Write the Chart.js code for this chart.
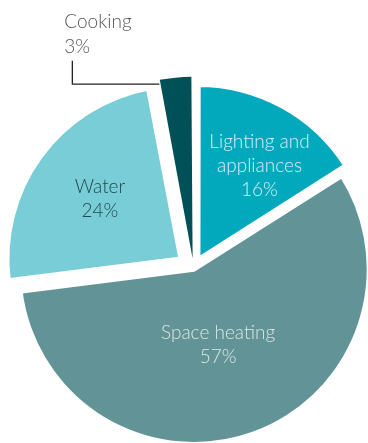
<!DOCTYPE html>
<html>
<head>
<meta charset="utf-8">
<script src="https://cdn.jsdelivr.net/npm/chart.js@4/dist/chart.umd.min.js"></script>
<style>
  html, body { margin: 0; padding: 0; background: #ffffff; }
  #wrap { width: 368px; height: 443px; position: relative; }
</style>
</head>
<body>
<div id="wrap"><canvas id="chart" width="368" height="443"></canvas></div>
<script>
// Household energy use by end use (share of total, %), clockwise from Cooking
const categories = ['Cooking', 'Lighting and appliances', 'Space heating', 'Water'];
const shares = [3, 16, 57, 24];
const labelLines = [['Cooking'], ['Lighting and', 'appliances'], ['Space heating'], ['Water']];

// Styling
const sliceColors = ['#005157', '#02a9bc', '#629396', '#78cdd7'];
const labelColors = ['#555555', '#d6f1f4', '#d9e7e8', '#1f4a4f'];
const sliceBorders = [0, 5, 5, 5];
const sliceOffsets = [38, 37, 5, 62];
const labelRadius = [0, 0.698, 0.462, 0.668];
const labelAngleShift = [0, 4.1, 2.0, 0.4];
const FONT = '300 19px Lato, "Open Sans", sans-serif';

const sliceLabels = {
  id: 'sliceLabels',
  afterDatasetsDraw(chart) {
    const ctx = chart.ctx;
    const arcs = chart.getDatasetMeta(0).data;
    ctx.save();
    ctx.font = FONT;
    ctx.textAlign = 'center';
    ctx.textBaseline = 'alphabetic';
    arcs.forEach((arc, i) => {
      const p = arc.getProps(['x', 'y', 'startAngle', 'endAngle', 'outerRadius'], true);
      const mid = (p.startAngle + p.endAngle) / 2;
      const lines = labelLines[i].concat([shares[i] + '%']);
      if (labelRadius[i] > 0) {
        const a = mid + labelAngleShift[i] * Math.PI / 180;
        const r = labelRadius[i] * p.outerRadius;
        const cx = p.x + Math.cos(a) * r;
        const cy = p.y + Math.sin(a) * r;
        const lh = 24;
        ctx.fillStyle = labelColors[i];
        lines.forEach((t, k) => {
          ctx.fillText(t, cx, cy + 6 + (k - (lines.length - 1) / 2) * lh);
        });
      } else {
        // small slice: leader line from its left edge out to a label above-left
        const t = sliceOffsets[i] / 4;
        const ox = p.x + Math.cos(mid) * t;
        const oy = p.y + Math.sin(mid) * t;
        const er = p.outerRadius * 1.02;
        const ax = ox + Math.cos(p.startAngle) * er;
        const ay = oy + Math.sin(p.startAngle) * er;
        const bx = ax - 87;
        const topY = ay - 23.5;
        ctx.strokeStyle = '#222222';
        ctx.lineWidth = 1.3;
        ctx.beginPath();
        ctx.moveTo(ax, ay);
        ctx.lineTo(bx, ay);
        ctx.lineTo(bx, topY);
        ctx.stroke();
        ctx.textAlign = 'left';
        ctx.fillStyle = labelColors[i];
        ctx.fillText(lines[0], bx - 8, topY - 33);
        ctx.fillText(lines[1], bx - 8, topY - 8);
        ctx.textAlign = 'center';
      }
    });
    ctx.restore();
  }
};

new Chart(document.getElementById('chart'), {
  type: 'pie',
  data: {
    labels: categories,
    datasets: [{
      data: shares,
      backgroundColor: sliceColors,
      borderColor: '#ffffff',
      borderWidth: sliceBorders,
      offset: sliceOffsets,
      radius: 174
    }]
  },
  options: {
    responsive: false,
    devicePixelRatio: 1,
    animation: false,
    rotation: -10.8,
    layout: { padding: { left: 19, right: 0, top: 93, bottom: 0 } },
    plugins: { legend: { display: false }, tooltip: { enabled: false } }
  },
  plugins: [sliceLabels]
});
</script>
</body>
</html>
